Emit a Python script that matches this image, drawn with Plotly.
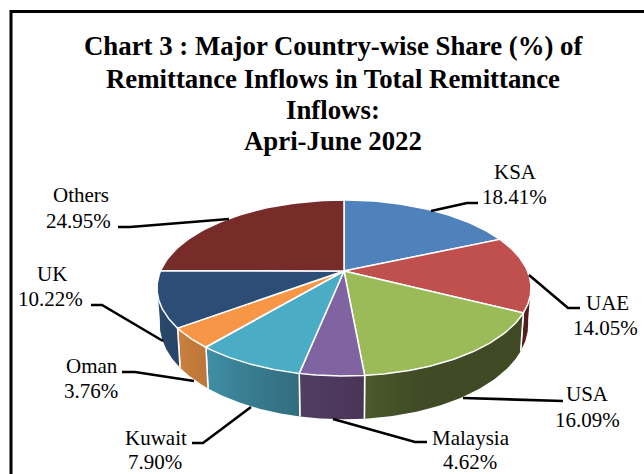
import math
import plotly.graph_objects as go

# ---- data ----
categories = ["KSA", "UAE", "USA", "Malaysia", "Kuwait", "Oman", "UK", "Others"]
shares = [18.41, 14.05, 16.09, 4.62, 7.90, 3.76, 10.22, 24.95]
share_labels = ["18.41%", "14.05%", "16.09%", "4.62%", "7.90%", "3.76%", "10.22%", "24.95%"]
title_lines = ["Chart 3 : Major Country-wise Share (%) of",
               "Remittance Inflows in Total Remittance",
               "Inflows:",
               "Apri-June 2022"]

top_colors = ["#4f81bd", "#c0504d", "#9bbb59", "#8064a2", "#4bacc6", "#f79646", "#2c4d75", "#772c2a"]
wall_left = ["#3a5f8c", "#5c2220", "#4a5a2b", "#523d63", "#4090a8", "#cb823f", "#2a4a70", "#5a1f1e"]
wall_mid = ["#3a5f8c", "#551f1e", "#404b25", "#4e3a5e", "#3a8095", "#c47c3b", "#284769", "#5a1f1e"]
wall_right = ["#3a5f8c", "#4e1c1b", "#3f4a24", "#4a3558", "#316d7e", "#be7638", "#274568", "#5a1f1e"]

# ---- projection of the 3-D pie onto the page ----
CX, CY, A, B, K = 344.0, 271.0, 183.5, 84.7, 0.193
DEPTH, BOTTOM_SCALE = 35.0, 0.985


def top_pt(pct):
    t = math.radians(pct * 3.6)
    u, v = math.sin(t), -math.cos(t)
    w = 1 - K * v
    return CX + A * u / w, CY + B * v / w


def bottom_pt(pct):
    t = math.radians(pct * 3.6)
    x, y = top_pt(pct)
    w = 1 + K * math.cos(t)
    return CX + (x - CX) * BOTTOM_SCALE, y + DEPTH / w


def span(p0, p1, n=60):
    return [p0 + (p1 - p0) * i / n for i in range(n + 1)]


fig = go.Figure()
edges = [0.0]
for s in shares:
    edges.append(edges[-1] + s)
edges[-1] = 100.0

VIS0, VIS1 = 27.5, 72.5   # percent range of the pie whose wall faces the viewer

# walls
for i in range(len(shares)):
    p0, p1 = max(edges[i], VIS0), min(edges[i + 1], VIS1)
    if p1 <= p0:
        continue
    ps = span(p0, p1)
    top = [top_pt(p) for p in ps]
    bot = [bottom_pt(p) for p in reversed(ps)]
    pts = top + bot + [top[0]]
    fig.add_trace(go.Scatter(
        x=[q[0] for q in pts], y=[q[1] for q in pts], mode="lines", fill="toself",
        line=dict(color="rgba(0,0,0,0)", width=0),
        fillgradient=dict(type="horizontal",
                          colorscale=[[0, wall_left[i]], [0.35, wall_mid[i]], [1, wall_right[i]]]),
        hoverinfo="skip", showlegend=False))
    for p in (p0, p1):
        if VIS0 < p < VIS1:
            a, b = top_pt(p), bottom_pt(p)
            fig.add_trace(go.Scatter(x=[a[0], b[0]], y=[a[1], b[1]], mode="lines",
                                     line=dict(color="white", width=1.5),
                                     hoverinfo="skip", showlegend=False))

# top face
for i in range(len(shares)):
    pts = [top_pt(p) for p in span(edges[i], edges[i + 1])]
    xs = [CX] + [q[0] for q in pts] + [CX]
    ys = [CY] + [q[1] for q in pts] + [CY]
    fig.add_trace(go.Scatter(x=xs, y=ys, mode="lines", fill="toself", fillcolor=top_colors[i],
                             line=dict(color="white", width=1.5),
                             hoverinfo="skip", showlegend=False))

# leader lines (page pixels)
leaders = [
    [(431, 211), (467, 203), (478, 203)],
    [(529, 275), (568, 308), (580, 308)],
    [(463, 398), (563, 401)],
    [(333, 419), (415, 442), (427, 442)],
    [(251, 407), (203, 443), (192, 443)],
    [(194, 381), (135, 372), (122, 372)],
    [(163, 341), (102, 305), (91, 305)],
    [(229, 219), (130, 227), (118, 227)],
]
for seg in leaders:
    fig.add_trace(go.Scatter(x=[q[0] for q in seg], y=[q[1] for q in seg], mode="lines",
                             line=dict(color="black", width=2.6),
                             hoverinfo="skip", showlegend=False))

# data labels (page pixels)
label_pos = [((515, 172), (514.5, 197)), ((607, 303), (605.5, 328)), ((587, 394), (587, 420)),
             ((470.5, 438), (469.5, 462)), ((156, 438), (155, 462)), ((92, 366), (91, 391)),
             ((52, 274), (50.5, 299)), ((80.5, 195), (78.5, 221))]
SERIF = "Liberation Serif"
ann = []
for name, lab, (p1, p2) in zip(categories, share_labels, label_pos):
    ann.append(dict(x=p1[0], y=p1[1], text=name, showarrow=False, xanchor="center", yanchor="middle",
                    font=dict(family=SERIF, size=21, color="black")))
    ann.append(dict(x=p2[0], y=p2[1], text=lab, showarrow=False, xanchor="center", yanchor="middle",
                    font=dict(family=SERIF, size=21, color="black")))
for line, y in zip(title_lines, (46, 79, 110, 141)):
    ann.append(dict(x=333, y=y, text="<b>%s</b>" % line, showarrow=False, xanchor="center", yanchor="middle",
                    font=dict(family=SERIF, size=26.8, color="black")))

# chart frame
frame = [
    dict(type="line", x0=11, x1=644, y0=11.5, y1=11.5, line=dict(color="black", width=3)),
    dict(type="line", x0=11, x1=11, y0=10, y1=474, line=dict(color="black", width=3)),
]

fig.update_layout(
    width=644, height=474, margin=dict(l=0, r=0, t=0, b=0), autosize=False,
    paper_bgcolor="white", plot_bgcolor="white", showlegend=False,
    xaxis=dict(range=[0, 644], visible=False, fixedrange=True),
    yaxis=dict(range=[474, 0], visible=False, fixedrange=True),
    annotations=ann, shapes=frame,
)
fig.write_html("out.html", config={"displayModeBar": False},
               post_script="document.body.style.margin='0';document.body.style.overflow='hidden';")
